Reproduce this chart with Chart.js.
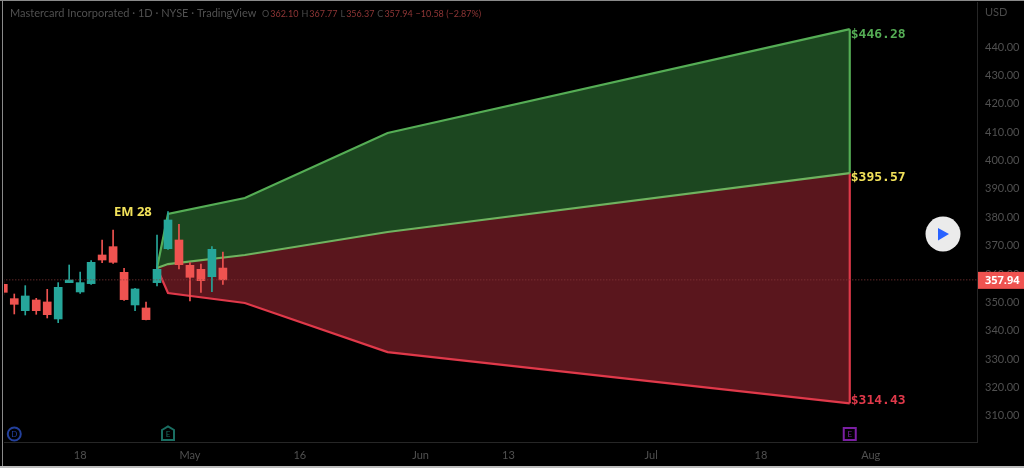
<!DOCTYPE html>
<html>
<head>
<meta charset="utf-8">
<title>Mastercard expected move</title>
<script src="https://cdn.jsdelivr.net/npm/chart.js@4/dist/chart.umd.min.js"></script>
<style>
  html, body { margin: 0; padding: 0; background: #000; overflow: hidden; }
  canvas { display: block; }
</style>
</head>
<body>
<canvas id="chart" width="1024" height="468"></canvas>
<script>
// candles (x is the trading day index)
const opens  = [356.37, 351.32, 347.09, 350.85, 350.15, 344.16, 356.96, 353.67, 356.61, 366.71, 369.64, 360.60, 349.09, 348.03, 356.96, 368.94, 371.99, 363.07, 361.66, 359.07, 362.10];
const closes = [353.55, 349.32, 352.26, 347.09, 345.68, 355.31, 357.90, 356.96, 364.12, 364.94, 364.12, 350.97, 354.73, 343.92, 361.66, 379.04, 363.30, 358.84, 357.66, 368.70, 357.94];
const highs  = [357.31, 352.96, 355.90, 351.44, 354.61, 356.96, 363.18, 360.72, 364.71, 371.99, 375.52, 362.01, 354.96, 350.15, 373.75, 381.98, 377.51, 364.01, 363.54, 369.64, 367.77];
const lows   = [352.61, 345.92, 345.56, 345.80, 344.51, 342.86, 356.96, 353.20, 356.37, 364.01, 363.77, 350.73, 347.09, 343.80, 355.78, 368.70, 361.77, 350.50, 353.55, 353.79, 356.37];

// expected move cone
const coneDays  = [14, 15, 22, 35, 77.09];
const coneUpper = [362.1, 381.2, 386.8, 409.7, 446.28];
const coneMid   = [362.1, 363.5, 366.7, 374.8, 395.57];
const coneLower = [362.1, 353.3, 349.8, 332.5, 314.43];

const lastPrice = 357.94;

// axis labels
const dateTicks  = [7, 17, 27, 38, 46, 59, 69, 79];
const dateLabels = ['18', 'May', '16', 'Jun', '13', 'Jul', '18', 'Aug'];
const priceTicks = [310, 320, 330, 340, 350, 360, 370, 380, 390, 400, 410, 420, 430, 440];

const UP = '#26a69a', DOWN = '#ef5350';
const GREEN = '#55ad55', RED = '#e0394a', YELLOW = '#f2e25a';
const UI_FONT = 'Lato, sans-serif';
const candleColors = opens.map((o, i) => closes[i] >= o ? UP : DOWN);

const line = (ys, xs) => ys.map((y, i) => ({ x: xs[i], y: y }));

// the fills sit in their own datasets so they never cover a line
const area = (ys, fill, color) => ({ type: 'line', data: line(ys, coneDays), borderWidth: 0, pointRadius: 0, tension: 0,
  fill: fill, backgroundColor: color, order: 5 });
const stroke = (ys, xs, color, order) => ({ type: 'line', data: line(ys, xs), borderColor: color, borderWidth: 2.2, pointRadius: 0,
  tension: 0, fill: false, order: order });

const datasets = [
  area(coneUpper, { target: 1 }, '#1c4720'),
  area(coneMid, { target: 2 }, '#5a161d'),
  area(coneLower, false, 'transparent'),
  stroke(coneLower, coneDays, RED, 3),
  stroke(coneUpper, coneDays, GREEN, 3),
  stroke([coneMid[4], coneLower[4]], [coneDays[4], coneDays[4]], RED, 3),
  stroke([coneUpper[4], coneMid[4]], [coneDays[4], coneDays[4]], GREEN, 3),
  stroke(coneMid, coneDays, '#6fb35f', 2.5),
  // wicks and bodies
  { type: 'bar', data: highs.map((h, i) => ({ x: i, y: [lows[i], h] })), backgroundColor: candleColors, barThickness: 1, grouped: false, order: 2 },
  { type: 'bar', data: opens.map((o, i) => ({ x: i, y: [o, closes[i]] })), backgroundColor: candleColors, barThickness: 8, grouped: false, order: 1 },
  // last price line
  { type: 'line', data: line([lastPrice, lastPrice], [0, 90]), borderColor: '#8a3a3a', borderWidth: 1, borderDash: [1, 2], pointRadius: 0, fill: false, order: 0 }
];

function text(ctx, str, x, y, font, color, align) {
  ctx.font = font;
  ctx.fillStyle = color;
  ctx.textAlign = align || 'left';
  ctx.textBaseline = 'middle';
  ctx.fillText(str, x, y);
}

const decorations = {
  id: 'decorations',
  afterDraw(chart) {
    const ctx = chart.ctx;
    const xs = chart.scales.x, ys = chart.scales.y;
    ctx.save();

    // screenshot frame
    ctx.fillStyle = '#8a8a8a';
    ctx.fillRect(0, 0, 1024, 1);
    ctx.fillRect(2, 0, 1, 468);
    ctx.fillStyle = '#bdbdbd';
    ctx.fillRect(0, 466, 1024, 2);
    ctx.fillStyle = '#000';
    ctx.fillRect(0, 1, 2, 465);

    // header
    text(ctx, 'Mastercard Incorporated · 1D · NYSE · TradingView', 10, 13, '11px ' + UI_FONT, '#505050');
    const ohlc = [['O', '362.10'], ['H', '367.77'], ['L', '356.37'], ['C', '357.94']];
    let hx = 262;
    const small = '9px ' + UI_FONT;
    ohlc.forEach(p => {
      text(ctx, p[0], hx, 14, small, '#4a4a4a');
      hx += ctx.measureText(p[0]).width + 1;
      text(ctx, p[1], hx, 14, small, '#8f3636');
      hx += ctx.measureText(p[1]).width + 3;
    });
    text(ctx, '−10.58 (−2.87%)', hx, 14, small, '#8f3636');

    // value labels
    const mono = 'bold 13px "DejaVu Sans Mono", monospace';
    const edge = xs.getPixelForValue(coneDays[4]) + 1;
    text(ctx, '$446.28', edge, ys.getPixelForValue(coneUpper[4]) + 5, mono, GREEN);
    text(ctx, '$395.57', edge, ys.getPixelForValue(coneMid[4]) + 5, mono, YELLOW);
    text(ctx, '$314.43', edge, ys.getPixelForValue(coneLower[4]) - 3, mono, RED);
    text(ctx, 'EM 28', 114, 212, 'bold 13px "Open Sans", sans-serif', YELLOW);

    // last price tag
    const py = ys.getPixelForValue(lastPrice);
    ctx.fillStyle = DOWN;
    ctx.fillRect(978, py - 8, 46, 17);
    text(ctx, '357.94', 985, py + 1, 'bold 11px "Open Sans", sans-serif', '#fff');

    text(ctx, 'USD', 985, 12, '11px ' + UI_FONT, '#4a4a4a');

    // dividend marker
    const dx = xs.getPixelForValue(1);
    ctx.strokeStyle = '#23409c';
    ctx.lineWidth = 2;
    ctx.beginPath();
    ctx.arc(dx, 434, 6.5, 0, Math.PI * 2);
    ctx.stroke();
    text(ctx, 'D', dx, 434, '8px ' + UI_FONT, '#23409c', 'center');

    // earnings marker, past
    const ex = xs.getPixelForValue(15);
    ctx.strokeStyle = '#1a6e62';
    ctx.beginPath();
    ctx.moveTo(ex - 6, 430);
    ctx.lineTo(ex, 426.5);
    ctx.lineTo(ex + 6, 430);
    ctx.lineTo(ex + 6, 440);
    ctx.lineTo(ex - 6, 440);
    ctx.closePath();
    ctx.stroke();
    text(ctx, 'E', ex, 434, '8px ' + UI_FONT, '#1a6e62', 'center');

    // earnings marker, next
    const nx = xs.getPixelForValue(coneDays[4]);
    ctx.strokeStyle = '#7a1fa2';
    ctx.strokeRect(nx - 6, 428, 12, 12);
    text(ctx, 'E', nx, 434, '8px ' + UI_FONT, '#7a1fa2', 'center');

    // play button
    ctx.fillStyle = '#ebebeb';
    ctx.beginPath();
    ctx.arc(943, 234, 17.5, 0, Math.PI * 2);
    ctx.fill();
    ctx.fillStyle = '#2962ff';
    ctx.beginPath();
    ctx.moveTo(938, 228);
    ctx.lineTo(949, 234);
    ctx.lineTo(938, 240.5);
    ctx.closePath();
    ctx.fill();

    ctx.restore();
  }
};

new Chart(document.getElementById('chart'), {
  type: 'bar',
  data: { datasets: datasets },
  plugins: [decorations],
  options: {
    responsive: false,
    animation: false,
    events: [],
    layout: { padding: { left: 4, top: 2, right: 0, bottom: 0 } },
    plugins: { legend: { display: false }, tooltip: { enabled: false }, title: { display: false } },
    scales: {
      x: {
        type: 'linear',
        offset: false,
        min: 0.064,
        max: 88.68,
        grid: { display: false, drawTicks: false },
        border: { display: true, color: '#262626' },
        afterBuildTicks(axis) { axis.ticks = dateTicks.map(v => ({ value: v })); },
        afterFit(axis) { axis.height = 26; axis.paddingLeft = 0; axis.paddingRight = 0; },
        ticks: {
          autoSkip: false,
          maxRotation: 0,
          padding: 7,
          color: '#505050',
          font: { family: 'Lato, sans-serif', size: 11 },
          callback: v => dateLabels[dateTicks.indexOf(v)]
        }
      },
      y: {
        position: 'right',
        min: 300.8,
        max: 455.86,
        grid: { display: false, drawTicks: false },
        border: { display: true, color: '#262626' },
        afterBuildTicks(axis) { axis.ticks = priceTicks.map(v => ({ value: v })); },
        afterFit(axis) { axis.width = 47; axis.paddingTop = 0; axis.paddingBottom = 0; },
        ticks: {
          autoSkip: false,
          padding: 8,
          color: '#505050',
          font: { family: 'Lato, sans-serif', size: 11 },
          callback: v => v.toFixed(2)
        }
      }
    }
  }
});
</script>
</body>
</html>
